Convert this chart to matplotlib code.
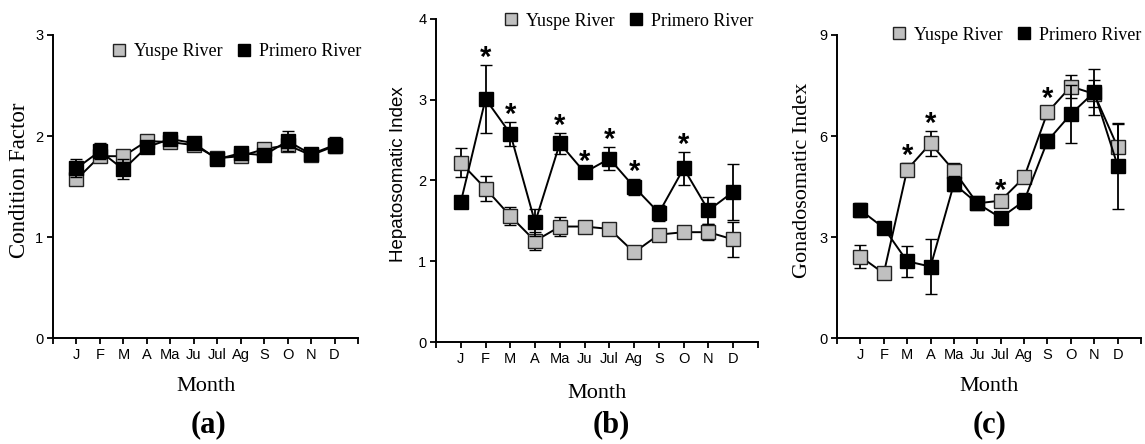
import numpy as np
import matplotlib
matplotlib.use("Agg")
import matplotlib.pyplot as plt
from matplotlib.lines import Line2D

# --- data ---
months = ["J", "F", "M", "A", "Ma", "Ju", "Jul", "Ag", "S", "O", "N", "D"]

cf_yuspe = [1.57, 1.80, 1.80, 1.95, 1.94, 1.91, 1.78, 1.80, 1.87, 1.91, 1.81, 1.90]
cf_yuspe_err = [0.04, 0.04, 0.04, 0.03, 0.03, 0.03, 0.03, 0.03, 0.03, 0.04, 0.03, 0.04]
cf_primero = [1.68, 1.85, 1.67, 1.89, 1.97, 1.93, 1.77, 1.83, 1.81, 1.95, 1.82, 1.91]
cf_primero_err = [0.09, 0.08, 0.10, 0.04, 0.04, 0.04, 0.03, 0.04, 0.03, 0.10, 0.03, 0.08]

hsi_yuspe = [2.22, 1.90, 1.56, 1.25, 1.43, 1.43, 1.40, 1.11, 1.33, 1.36, 1.36, 1.27]
hsi_yuspe_err = [0.18, 0.15, 0.11, 0.11, 0.12, 0.03, 0.03, 0.03, 0.05, 0.04, 0.10, 0.22]
hsi_primero = [1.73, 3.01, 2.58, 1.48, 2.46, 2.10, 2.27, 1.92, 1.60, 2.15, 1.63, 1.86]
hsi_primero_err = [0.0, 0.42, 0.15, 0.17, 0.13, 0.04, 0.14, 0.10, 0.10, 0.20, 0.17, 0.35]

gsi_yuspe = [2.42, 1.92, 5.00, 5.78, 4.97, 4.00, 4.08, 4.77, 6.70, 7.47, 7.25, 5.67]
gsi_yuspe_err = [0.35, 0.05, 0.20, 0.38, 0.22, 0.05, 0.08, 0.10, 0.20, 0.34, 0.40, 0.70]
gsi_primero = [3.80, 3.27, 2.28, 2.12, 4.58, 4.00, 3.57, 4.07, 5.85, 6.65, 7.30, 5.12]
gsi_primero_err = [0.20, 0.05, 0.46, 0.82, 0.22, 0.05, 0.10, 0.25, 0.20, 0.86, 0.68, 1.28]

hsi_signif = ["F", "M", "Ma", "Ju", "Jul", "Ag", "O"]
gsi_signif = ["M", "A", "Jul", "S"]

SERIF = "Liberation Serif"
SANS = "Liberation Sans"
W, H = 1145, 444

fig = plt.figure(figsize=(W / 100, H / 100), dpi=100)


def px_axes(l, t, r, b):
    return fig.add_axes([l / W, 1 - b / H, (r - l) / W, (b - t) / H])


def panel(ax, yu, yu_e, pr, pr_e, ymax, yticks, ylabel, ylab_font, ylab_size,
          ylab_x, signif):
    x = np.arange(1, 13)
    ax.errorbar(x, yu, yerr=yu_e, color="black", lw=1.4, elinewidth=1.3,
                capsize=4.5, capthick=1.3, marker="s", markersize=10,
                markerfacecolor="#c0c0c0", markeredgecolor="#222222",
                markeredgewidth=1.0, zorder=3)
    ax.errorbar(x, pr, yerr=pr_e, color="black", lw=1.4, elinewidth=1.3,
                capsize=4.5, capthick=1.3, marker="s", markersize=10,
                markerfacecolor="black", markeredgecolor="black",
                markeredgewidth=1.0, zorder=4)
    ax.set_xlim(0, 13)
    ax.set_ylim(0, ymax)
    ax.set_xticks(range(0, 14))
    ax.set_xticklabels([""] + months + [""], family=SANS, fontsize=10.5)
    ax.set_yticks(yticks)
    ax.set_yticklabels([str(v) for v in yticks], family=SANS, fontsize=10.5)
    for s in ["top", "right"]:
        ax.spines[s].set_visible(False)
    for s in ["left", "bottom"]:
        ax.spines[s].set_linewidth(1.4)
    ax.tick_params(direction="out", length=4, width=1.3, pad=3)
    ax.set_ylabel(ylabel, family=ylab_font, fontsize=ylab_size, va="center")
    ax.yaxis.set_label_coords(ylab_x, 0.52)
    ax.text(0.5, -0.16, "Month", transform=ax.transAxes, ha="center",
            va="center", family=SERIF, fontsize=16)
    for m in signif:
        i = months.index(m)
        top = max(yu[i] + yu_e[i], pr[i] + pr_e[i])
        ax.annotate("*", xy=(i + 1, top), xytext=(0, -5),
                    textcoords="offset points", ha="center", va="bottom",
                    family=SANS, fontsize=21, fontweight="bold")


ax_a = px_axes(53, 35, 358, 338)
ax_b = px_axes(436, 19, 758, 342)
ax_c = px_axes(837, 35, 1141, 338)

panel(ax_a, cf_yuspe, cf_yuspe_err, cf_primero, cf_primero_err, 3,
      [0, 1, 2, 3], "Condition Factor", SERIF, 16.5, -0.11, [])
panel(ax_b, hsi_yuspe, hsi_yuspe_err, hsi_primero, hsi_primero_err, 4,
      [0, 1, 2, 3, 4], "Hepatosomatic Index", SANS, 13.5, -0.118, hsi_signif)
panel(ax_c, gsi_yuspe, gsi_yuspe_err, gsi_primero, gsi_primero_err, 9,
      [0, 3, 6, 9], "Gonadosomatic Index", SERIF, 16, -0.115, gsi_signif)

handles = [
    Line2D([], [], ls="none", marker="s", markersize=9,
           markerfacecolor="#c0c0c0", markeredgecolor="#222222"),
    Line2D([], [], ls="none", marker="s", markersize=9,
           markerfacecolor="black", markeredgecolor="black"),
]
for right, yc in [(361, 52), (753, 21), (1141, 35)]:
    fig.legend(handles, ["Yuspe River", "Primero River"], ncol=2,
               loc="center right", bbox_to_anchor=(right / W, 1 - yc / H),
               frameon=False, borderpad=0, borderaxespad=0,
               handlelength=0.8, handletextpad=0.4, columnspacing=0.8,
               prop={"family": SERIF, "size": 13})

for lab, xc in [("(a)", 209), ("(b)", 611), ("(c)", 990)]:
    fig.text(xc / W, 1 - 425 / H, lab, ha="center", va="center",
             family=SERIF, fontsize=22, fontweight="bold")

fig.savefig("out.png", dpi=100)
